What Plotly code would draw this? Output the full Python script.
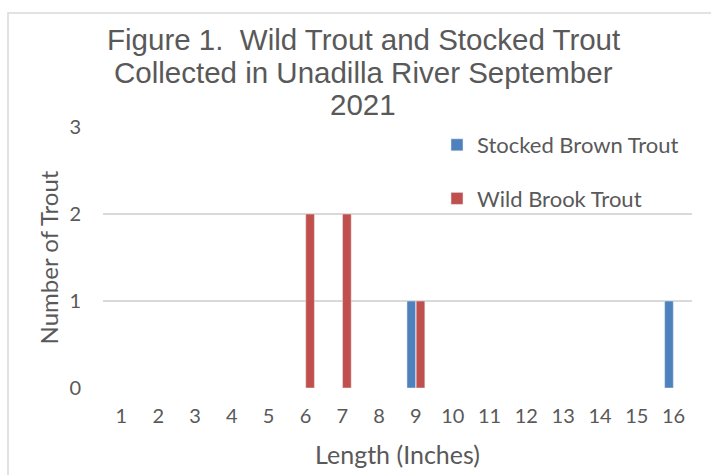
import plotly.graph_objects as go

lengths = [str(i) for i in range(1, 17)]
stocked_brown = [0, 0, 0, 0, 0, 0, 0, 0, 1, 0, 0, 0, 0, 0, 0, 1]
wild_brook = [0, 0, 0, 0, 0, 2, 2, 0, 1, 0, 0, 0, 0, 0, 0, 0]
y_ticks = [0, 1, 2, 3]
title_lines = ["Figure 1.  Wild Trout and Stocked Trout",
               "Collected in Unadilla River September",
               "2021"]

W, H = 711, 475
L, R, T, B = 103, 19, 127, 87
PW, PH = W - L - R, H - T - B

def fx(px):
    return (px - L) / PW

def fy(py):
    return (H - B - py) / PH

GREY = "#595959"
SANS = "Lato, 'Open Sans', sans-serif"
ARIAL = "'Liberation Sans', Arial, sans-serif"

def nz(vals):
    # zero counts draw no bar
    return [v if v else None for v in vals]

fig = go.Figure()
fig.add_trace(go.Bar(x=lengths, y=nz(stocked_brown), name="Stocked Brown Trout",
                     marker_color="#4f81bd", legendgroup="a"))
fig.add_trace(go.Bar(x=lengths, y=nz(wild_brook), name="Wild Brook Trout",
                     marker_color="#c0504d", legendgroup="b"))

fig.update_layout(
    width=W, height=H,
    margin=dict(l=L, r=R, t=T, b=B),
    paper_bgcolor="white", plot_bgcolor="white",
    barmode="group", bargap=0.5, bargroupgap=0.06,
    legend=dict(x=fx(437), y=fy(124), xanchor="left", yanchor="top",
                font=dict(family=SANS, size=22, color=GREY),
                traceorder="grouped", tracegroupgap=22, bgcolor="rgba(0,0,0,0)"),
    font=dict(family=SANS, color=GREY),
)
for line, yc in zip(title_lines, [39, 72, 105]):
    fig.add_annotation(text=line, x=fx(363), y=fy(yc), xref="paper", yref="paper",
                       xanchor="center", yanchor="middle", showarrow=False,
                       font=dict(family=ARIAL, size=29.5, color=GREY))

fig.update_xaxes(type="category", range=[-0.5, 15.5], showgrid=False, showline=False, zeroline=False,
                 automargin=False,
                 ticks="outside", ticklen=10, tickcolor="rgba(0,0,0,0)",
                 tickfont=dict(family=SANS, size=20, color=GREY),
                 title=dict(text="Length (Inches)", font=dict(family=SANS, size=25, color=GREY), standoff=20))
fig.update_yaxes(range=[0, 3], tickvals=y_ticks, showgrid=True, gridcolor="#d9d9d9", gridwidth=1.5,
                 zeroline=False, showline=False, automargin=False,
                 ticks="outside", ticklen=17, tickcolor="rgba(0,0,0,0)",
                 tickfont=dict(family=SANS, size=20, color=GREY),
                 title=dict(text="Number of Trout", font=dict(family=SANS, size=24, color=GREY), standoff=3))

# chart border
fig.add_shape(type="rect", xref="paper", yref="paper",
              x0=fx(8), x1=fx(714), y0=fy(480), y1=fy(13),
              line=dict(color="#d9d9d9", width=1.5), fillcolor="rgba(0,0,0,0)", layer="below")

fig.write_html("out.html", config={"displayModeBar": False},
               post_script="document.body.style.margin='0px';")
